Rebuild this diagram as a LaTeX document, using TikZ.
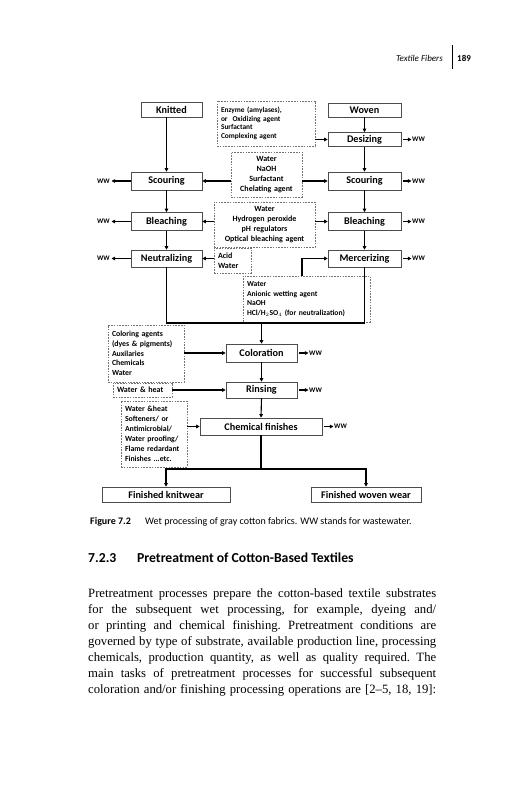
\documentclass[tikz,border=0pt]{standalone}
\usepackage{fontspec}
\setmainfont{Carlito}
\newfontfamily\bodyfont[Ligatures=TeX]{Liberation Serif}
\usetikzlibrary{arrows.meta}
\tikzset{
  >={Triangle[length=3.6pt,width=3.6pt]},
  proc/.style={draw=black!70, line width=0.6pt, inner sep=0pt, minimum height=18pt,
    font=\fontsize{10.2}{12}\selectfont\bfseries},
  agent/.style={draw=black!55, dash pattern=on 1.6pt off 1.2pt, line width=0.5pt,
    inner xsep=4pt, inner ysep=0pt, align=left, font=\fontsize{8}{10}\selectfont\bfseries},
  ww/.style={inner sep=0pt, font=\fontsize{7}{8}\selectfont\bfseries},
  flow/.style={line width=1.1pt},
  bodyline/.style={anchor=base west, inner sep=0pt, font=\bodyfont\fontsize{12.7}{16}\selectfont\frenchspacing}
}
\begin{document}
\begin{tikzpicture}[x=1pt,y=-1pt]
\useasboundingbox (0,0) rectangle (531,800);

\node[anchor=base east, inner sep=0pt, font=\fontsize{9}{11}\selectfont\itshape] (runhead) at (443,61.5) {Textile Fibers};
\draw[line width=1pt] (452,45) -- (452,69);
\node[anchor=base west, inner sep=0pt, font=\fontsize{9}{11}\selectfont\bfseries] (folio) at (457,61.5) {189};

\node[proc, minimum width=61pt, minimum height=15pt] (knitted) at (171.5,109.5) {Knitted};
\node[proc, minimum width=73pt, minimum height=14pt] (woven) at (364.5,110) {Woven};
\node[proc, minimum width=73pt, minimum height=14pt] (desize) at (364.5,139.5) {Desizing};
\node[proc, minimum width=71pt] (scourL) at (166.5,181) {Scouring};
\node[proc, minimum width=73pt] (scourR) at (364.5,181) {Scouring};
\node[proc, minimum width=71pt] (bleachL) at (166.5,221.5) {Bleaching};
\node[proc, minimum width=73pt] (bleachR) at (364.5,221.5) {Bleaching};
\node[proc, minimum width=71pt, minimum height=17pt] (neutral) at (166.5,258.5) {Neutralizing};
\node[proc, minimum width=73pt, minimum height=17pt] (mercer) at (364.5,258.5) {Mercerizing};
\node[proc, minimum width=71pt] (dyeing) at (261.5,353) {Coloration};
\node[proc, minimum width=71pt, minimum height=16pt] (rinse) at (261.5,390) {Rinsing};
\node[proc, minimum width=122pt, minimum height=17pt] (chemfin) at (261,426.5) {Chemical finishes};
\node[proc, minimum width=128pt, minimum height=15pt] (knitwear) at (166,494.5) {Finished knitwear};
\node[proc, minimum width=110pt, minimum height=15pt] (wovenwear) at (366,494.5) {Finished woven wear};

\node[agent, text width=90pt, minimum height=45pt, font=\fontsize{7.4}{8.7}\selectfont\bfseries] (enzyme) at (266,123.5)
  {Enzyme (amylases),\\or\ \ Oxidizing agent\\Surfactant\\Complexing agent};
\node[agent, text width=63pt, minimum height=45pt, align=center] (alkali) at (266.5,174.5)
  {Water\\NaOH\\Surfactant\\Chelating agent};
\node[agent, text width=93pt, minimum height=45pt, align=center] (peroxide) at (264.5,224.5)
  {Water\\Hydrogen peroxide\\pH regulators\\Optical bleaching agent};
\node[agent, text width=29pt, minimum height=25pt] (acid) at (232.5,260.5)
  {Acid\\Water};
\node[agent, text width=119pt, minimum height=46pt, font=\fontsize{7.6}{9.6}\selectfont\bfseries] (anionic) at (306.5,299)
  {Water\\Anionic wetting agent\\NaOH\\HCl/H$_2$SO$_4$ (for neutralization)};
\node[agent, text width=68pt, minimum height=57pt, font=\fontsize{7.8}{9.7}\selectfont\bfseries] (dyes) at (146,353.5)
  {Coloring agents\\(dyes \& pigments)\\Auxilaries\\Chemicals\\Water};
\node[agent, text width=51pt, minimum height=14pt] (heat) at (142.5,390)
  {Water \& heat};
\node[agent, text width=58pt, minimum height=66pt, font=\fontsize{7.8}{10}\selectfont\bfseries] (softener) at (154,434)
  {Water \&heat\\Softeners/ or\\Antimicrobial/\\Water proofing/\\Flame redardant\\Finishes ...etc.};

\node[ww, anchor=east] (wwSL) at (110,181) {WW};
\node[ww, anchor=east] (wwBL) at (110,221.5) {WW};
\node[ww, anchor=east] (wwNL) at (110,258.5) {WW};
\node[ww, anchor=west] (wwD) at (412,139.5) {WW};
\node[ww, anchor=west] (wwSR) at (412,181) {WW};
\node[ww, anchor=west] (wwBR) at (412,221.5) {WW};
\node[ww, anchor=west] (wwM) at (412,258.5) {WW};
\node[ww, anchor=west] (wwC) at (309,353) {WW};
\node[ww, anchor=west] (wwR) at (309,390) {WW};
\node[ww, anchor=west] (wwF) at (334,426.5) {WW};

\draw[flow,->] (scourL.north |- knitted.south) -- (scourL.north);
\draw[flow,->] (scourL.south) -- (bleachL.north);
\draw[flow,->] (bleachL.south) -- (neutral.north);
\draw[flow,->] (woven.south) -- (desize.north);
\draw[flow,->] (desize.south) -- (scourR.north);
\draw[flow,->] (scourR.south) -- (bleachR.north);
\draw[flow,->] (bleachR.south) -- (mercer.north);

\draw[flow,->] (enzyme.east |- desize.west) -- (desize.west);
\draw[flow,->] (alkali.west |- scourL.east) -- (scourL.east);
\draw[flow,->] (alkali.east |- scourR.west) -- (scourR.west);
\draw[flow,->] (peroxide.west |- bleachL.east) -- (bleachL.east);
\draw[flow,->] (peroxide.east |- bleachR.west) -- (bleachR.west);
\draw[flow,->] (acid.west |- neutral.east) -- (neutral.east);
\draw[flow,->] ([xshift=-4.5pt]anionic.north) |- (mercer.west);

\coordinate (merge) at (261.5,323);
\draw[flow] (neutral.south) |- (merge) -| (mercer.south);
\draw[flow,->] (merge) -- (dyeing.north);
\draw[flow,->] (dyeing.south) -- (rinse.north);
\draw[flow,->] (rinse.south) -- (chemfin.north);
\draw[flow,->] (dyes.east |- dyeing.west) -- (dyeing.west);
\draw[flow,->] (heat.east |- rinse.west) -- (rinse.west);
\draw[flow,->] (softener.east |- chemfin.west) -- (chemfin.west);

\coordinate (split) at (261,469);
\draw[flow] (chemfin.south) -- (split);
\draw[flow,->] (split) -| (knitwear.north);
\draw[flow,->] (split) -| (wovenwear.north);

\foreach \src/\dst in {scourL/wwSL,bleachL/wwBL,neutral/wwNL}
  \draw[flow,->,shorten >=1.5pt] (\src.west) -- (\dst.east);
\foreach \src/\dst in {desize/wwD,scourR/wwSR,bleachR/wwBR,mercer/wwM,dyeing/wwC,rinse/wwR,chemfin/wwF}
  \draw[flow,->,shorten <=1.5pt,shorten >=0.5pt] (\src.east) -- (\dst.west);

\node[anchor=base west, inner sep=0pt, font=\fontsize{10}{12}\selectfont\bfseries] (figlabel) at (90,524) {Figure 7.2};
\node[anchor=base west, inner sep=0pt, font=\fontsize{10}{12}\selectfont] (figtext) at (145,524)
  {Wet processing of gray cotton fabrics. WW stands for wastewater.};

\node[anchor=base west, inner sep=0pt, font=\fontsize{13.7}{16}\selectfont\bfseries] (secnum) at (88,562) {7.2.3};
\node[anchor=base west, inner sep=0pt, font=\fontsize{13.7}{16}\selectfont\bfseries] (sectitle) at (137,562)
  {Pretreatment of Cotton-Based Textiles};

\node[bodyline] (line1) at (88,597.5) {\makebox[348pt][s]{Pretreatment processes prepare the cotton-based textile substrates}};
\node[bodyline] (line2) at (88,613.5) {\makebox[348pt][s]{for the subsequent wet processing, for example, dyeing and/}};
\node[bodyline] (line3) at (88,629.5) {\makebox[348pt][s]{or printing and chemical finishing. Pretreatment conditions are}};
\node[bodyline] (line4) at (88,645.5) {\makebox[348pt][s]{governed by type of substrate, available production line, processing}};
\node[bodyline] (line5) at (88,661.5) {\makebox[348pt][s]{chemicals, production quantity, as well as quality required. The}};
\node[bodyline] (line6) at (88,677.5) {\makebox[348pt][s]{main tasks of pretreatment processes for successful subsequent}};
\node[bodyline] (line7) at (88,693.5) {\makebox[348pt][s]{coloration and/or finishing processing operations are [2–5, 18, 19]:}};
\end{tikzpicture}
\end{document}
